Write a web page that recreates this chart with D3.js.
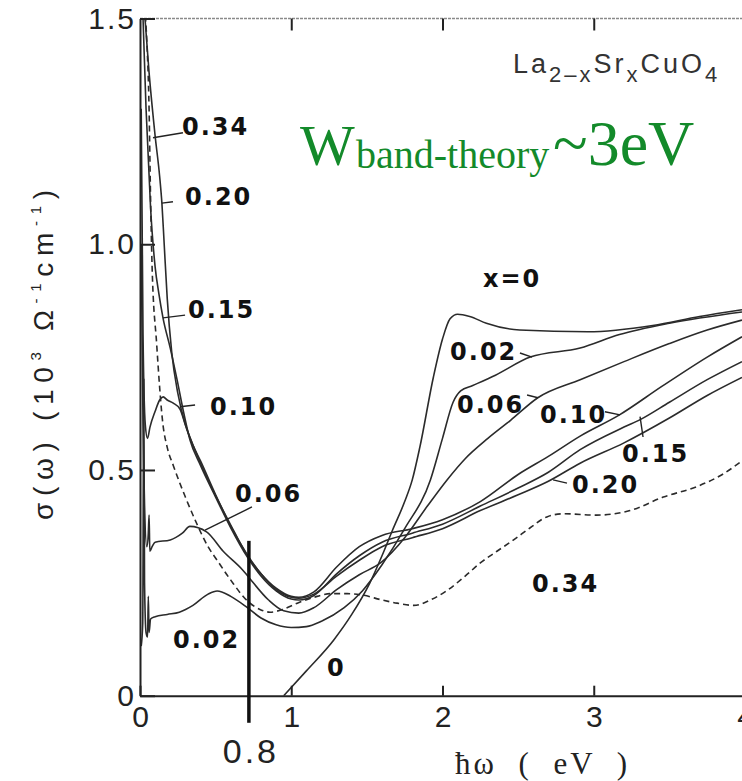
<!DOCTYPE html>
<html>
<head>
<meta charset="utf-8">
<script src="https://cdn.jsdelivr.net/npm/d3@7"></script>
<style>
  body { margin: 0; background: #fff; }
  svg { display: block; background: #fff; }
  .curve { fill: none; stroke: #2b2b2b; stroke-width: 1.6; }
  .tag { font-family: 'DejaVu Sans', sans-serif; font-weight: bold; font-size: 24px; letter-spacing: 2px; fill: #111; }
  .pointer { stroke: #222; stroke-width: 1.4; fill: none; }
  .axis path, .axis line { stroke: #222; stroke-width: 2; }
  .axis text { font-family: 'Liberation Sans', Arial, sans-serif; font-size: 30px; letter-spacing: 2px; fill: #222; }
</style>
</head>
<body>
<div id="app"></div>
<script>
const dopings = ['0', '0.02', '0.06', '0.10', '0.15', '0.20', '0.34']
const xTicks = [0, 1, 2, 3, 4]
const yTicks = [0, 0.5, 1.0, 1.5]

// sigma(omega), 10^3 ohm^-1 cm^-1, against photon energy in eV
const sigma000 = [[0.95, 0], [1.1, 0.055], [1.28, 0.123], [1.4, 0.18], [1.52, 0.25], [1.6, 0.31], [1.67, 0.367], [1.75, 0.43], [1.8, 0.478], [1.85, 0.55], [1.94, 0.706], [2.0, 0.79], [2.05, 0.835], [2.1, 0.845], [2.18, 0.84], [2.29, 0.825], [2.51, 0.81], [2.96, 0.806], [3.39, 0.82], [3.7, 0.84], [3.98, 0.855]]
const sigma002 = [[0.008, 0.11], [0.018, 0.16], [0.025, 0.7], [0.03, 0.25], [0.04, 0.14], [0.05, 0.13], [0.055, 0.22], [0.06, 0.14], [0.07, 0.17], [0.1, 0.175], [0.18, 0.18], [0.26, 0.185], [0.35, 0.2], [0.45, 0.225], [0.51, 0.232], [0.6, 0.22], [0.71, 0.195], [0.8, 0.172], [0.9, 0.157], [1.0, 0.151], [1.1, 0.153], [1.2, 0.165], [1.35, 0.195], [1.47, 0.232], [1.6, 0.29], [1.75, 0.37], [1.92, 0.478], [2.0, 0.57], [2.07, 0.65], [2.12, 0.675], [2.2, 0.687], [2.35, 0.71], [2.58, 0.75], [2.91, 0.77], [3.17, 0.8], [3.5, 0.825], [3.98, 0.85]]
const sigma006 = [[0.008, 1.0], [0.02, 0.6], [0.03, 0.42], [0.045, 0.33], [0.055, 0.36], [0.06, 0.4], [0.065, 0.32], [0.08, 0.33], [0.1, 0.34], [0.2, 0.345], [0.28, 0.36], [0.33, 0.375], [0.44, 0.363], [0.55, 0.32], [0.68, 0.278], [0.72, 0.262], [0.85, 0.212], [0.95, 0.188], [1.05, 0.183], [1.15, 0.195], [1.3, 0.235], [1.45, 0.268], [1.59, 0.294], [1.75, 0.35], [1.9, 0.42], [2.03, 0.478], [2.15, 0.525], [2.3, 0.57], [2.45, 0.61], [2.63, 0.66], [2.91, 0.7], [3.2, 0.74], [3.5, 0.78], [3.75, 0.81], [3.98, 0.832]]
const sigma010 = [[0.008, 1.3], [0.02, 0.8], [0.035, 0.6], [0.05, 0.57], [0.066, 0.595], [0.1, 0.63], [0.13, 0.655], [0.153, 0.662], [0.18, 0.655], [0.22, 0.648], [0.264, 0.635], [0.3, 0.6], [0.35, 0.555], [0.4, 0.515], [0.5, 0.443], [0.6, 0.378], [0.71, 0.31], [0.8, 0.27], [0.9, 0.238], [1.0, 0.22], [1.05, 0.218], [1.15, 0.23], [1.3, 0.285], [1.45, 0.33], [1.6, 0.355], [1.8, 0.37], [2.0, 0.39], [2.25, 0.43], [2.5, 0.49], [2.7, 0.53], [2.91, 0.575], [3.17, 0.622], [3.45, 0.685], [3.75, 0.75], [3.98, 0.795]]
const sigma015 = [[0.015, 1.55], [0.04, 1.3], [0.07, 1.08], [0.1, 0.95], [0.125, 0.89], [0.152, 0.837], [0.2, 0.77], [0.245, 0.7], [0.29, 0.625], [0.33, 0.567], [0.4, 0.51], [0.5, 0.44], [0.6, 0.372], [0.71, 0.307], [0.8, 0.265], [0.9, 0.232], [1.0, 0.214], [1.05, 0.212], [1.15, 0.222], [1.3, 0.27], [1.45, 0.31], [1.6, 0.34], [1.8, 0.36], [2.0, 0.38], [2.25, 0.42], [2.5, 0.46], [2.7, 0.495], [2.91, 0.545], [3.2, 0.595], [3.31, 0.612], [3.5, 0.65], [3.75, 0.7], [3.98, 0.74]]
const sigma020 = [[0.015, 1.58], [0.06, 1.38], [0.1, 1.24], [0.13, 1.15], [0.145, 1.09], [0.16, 1.0], [0.18, 0.88], [0.21, 0.76], [0.25, 0.67], [0.3, 0.6], [0.35, 0.555], [0.4, 0.52], [0.5, 0.445], [0.6, 0.375], [0.71, 0.312], [0.8, 0.27], [0.9, 0.235], [1.0, 0.218], [1.05, 0.216], [1.15, 0.225], [1.3, 0.265], [1.45, 0.3], [1.6, 0.33], [1.8, 0.35], [2.0, 0.37], [2.25, 0.41], [2.5, 0.445], [2.7, 0.475], [2.91, 0.515], [3.2, 0.56], [3.5, 0.615], [3.75, 0.665], [3.98, 0.705]]
const sigma034 = [[0.02, 1.55], [0.045, 1.45], [0.06, 1.3], [0.07, 1.1], [0.08, 0.95], [0.11, 0.78], [0.152, 0.6], [0.18, 0.55], [0.22, 0.51], [0.3, 0.44], [0.37, 0.385], [0.45, 0.33], [0.51, 0.3], [0.6, 0.256], [0.71, 0.21], [0.8, 0.19], [0.86, 0.185], [0.95, 0.192], [1.04, 0.205], [1.15, 0.218], [1.26, 0.226], [1.37, 0.226], [1.47, 0.223], [1.6, 0.212], [1.7, 0.205], [1.81, 0.2], [1.92, 0.212], [2.03, 0.233], [2.15, 0.265], [2.25, 0.294], [2.36, 0.32], [2.47, 0.345], [2.58, 0.372], [2.69, 0.396], [2.8, 0.403], [3.02, 0.4], [3.24, 0.41], [3.46, 0.44], [3.68, 0.463], [3.85, 0.49], [3.98, 0.52]]

// hand-drawn marker and its label
const markerEV = 0.72
const markerText = '0.8'

// curve tags (text and anchor point in eV / sigma units)
const tagText = ['0.34', '0.20', '0.15', '0.10', '0.06', '0.02', '0', 'x=0', '0.02', '0.06', '0.10', '0.15', '0.20', '0.34']
const tagAt = [[0.278, 1.242], [0.298, 1.088], [0.317, 0.837], [0.463, 0.622], [0.628, 0.429], [0.218, 0.106], [1.236, 0.044], [2.268, 0.906], [2.05, 0.744], [2.096, 0.626], [2.645, 0.604], [3.187, 0.518], [2.856, 0.449], [2.592, 0.23]]
const pointers = [
  [[0.086, 1.236], [0.284, 1.247]],
  [[0.145, 1.091], [0.218, 1.094]],
  [[0.152, 0.837], [0.298, 0.843]],
  [[0.264, 0.64], [0.364, 0.644]],
  [[0.43, 0.367], [0.74, 0.418]],
  [[2.512, 0.759], [2.592, 0.75]],
  [[2.559, 0.666], [2.631, 0.66]],
  [[3.074, 0.629], [3.174, 0.622]],
  [[3.306, 0.618], [3.326, 0.573]],
  [[2.731, 0.478], [2.823, 0.471]],
]

const W = 742
const H = 781
const margin = { top: 18.5, left: 140, bottom: 85.3 }
const plotRight = 745

const svg = d3
  .select('#app')
  .append('svg')
  .attr('width', W)
  .attr('height', H)

const x = d3.scaleLinear().domain([0, 4]).range([margin.left, plotRight])
const y = d3.scaleLinear().domain([0, 1.5]).range([H - margin.bottom, margin.top])

svg
  .append('clipPath')
  .attr('id', 'plot')
  .append('rect')
  .attr('x', margin.left)
  .attr('y', margin.top)
  .attr('width', plotRight - margin.left)
  .attr('height', y(0) - margin.top)

// Top frame line (faint, as in the scan)
svg
  .append('line')
  .attr('x1', margin.left)
  .attr('x2', plotRight)
  .attr('y1', margin.top)
  .attr('y2', margin.top)
  .attr('stroke', '#8a8a8a')
  .attr('stroke-width', 1.6)
  .attr('stroke-dasharray', '3,1')

svg
  .append('g')
  .attr('class', 'axis')
  .attr('transform', `translate(0,${margin.top})`)
  .call(d3.axisTop(x).tickValues([1, 2, 3]).tickSize(-12).tickSizeOuter(0).tickFormat(() => ''))
  .call(g => g.select('.domain').remove())
  .selectAll('line')
  .attr('stroke-width', 1.4)

// Curves
const line = d3
  .line()
  .x(d => x(d[0]))
  .y(d => y(d[1]))
  .curve(d3.curveMonotoneX)

const curves = [sigma000, sigma002, sigma006, sigma010, sigma015, sigma020, sigma034].map((pts, i) => ({
  doping: dopings[i],
  pts,
}))

svg
  .append('g')
  .attr('clip-path', 'url(#plot)')
  .selectAll('path')
  .data(curves)
  .join('path')
  .attr('class', 'curve')
  .attr('d', d => line(d.pts))
  .attr('stroke-dasharray', d => (d.doping === '0.34' ? '6,4' : null))

// Axes
svg
  .append('g')
  .attr('class', 'axis')
  .attr('transform', `translate(${margin.left},0)`)
  .call(
    d3
      .axisLeft(y)
      .tickValues(yTicks)
      .tickSize(-15)
      .tickSizeOuter(0)
      .tickPadding(4)
      .tickFormat(d => (d === 0 ? '0' : d3.format('.1f')(d)))
  )

svg
  .append('g')
  .attr('class', 'axis')
  .attr('transform', `translate(0,${y(0)})`)
  .call(d3.axisBottom(x).tickValues(xTicks).tickSize(-10).tickSizeOuter(0).tickPadding(10).tickFormat(d3.format('d')))
  .call(g => g.selectAll('.tick line').attr('stroke-width', 1.4))
  .call(g => g.selectAll('.tick text').attr('dx', 1))

// Marker at the band edge
svg
  .append('line')
  .attr('x1', x(markerEV))
  .attr('x2', x(markerEV))
  .attr('y1', y(0.343))
  .attr('y2', y(-0.06))
  .attr('stroke', '#111')
  .attr('stroke-width', 3.5)

svg
  .append('text')
  .attr('x', x(markerEV) + 2)
  .attr('y', 763)
  .attr('text-anchor', 'middle')
  .attr('font-family', "'Liberation Sans', Arial, sans-serif")
  .attr('font-size', 34)
  .attr('letter-spacing', 3)
  .attr('fill', '#222')
  .text(markerText)

// Curve tags
svg
  .selectAll('.pointer')
  .data(pointers)
  .join('path')
  .attr('class', 'pointer')
  .attr('d', d => d3.line()(d.map(p => [x(p[0]), y(p[1])])))

svg
  .selectAll('.tag')
  .data(tagText)
  .join('text')
  .attr('class', 'tag')
  .attr('x', (_, i) => x(tagAt[i][0]))
  .attr('y', (_, i) => y(tagAt[i][1]))
  .text(d => d)

// Axis titles
svg
  .append('text')
  .attr('transform', `translate(53,355) rotate(-90)`)
  .attr('text-anchor', 'middle')
  .attr('font-family', "'Liberation Sans', Arial, sans-serif")
  .attr('font-size', 28)
  .attr('fill', '#222')
  .attr('textLength', 330)
  .attr('lengthAdjust', 'spacing')
  .call(t => {
    t.append('tspan').text('σ(ω) (10')
    t.append('tspan').attr('font-size', 15).attr('dy', -12).text('3')
    t.append('tspan').attr('dy', 12).text(' Ω')
    t.append('tspan').attr('font-size', 15).attr('dy', -12).text('-1')
    t.append('tspan').attr('dy', 12).text('cm')
    t.append('tspan').attr('font-size', 15).attr('dy', -12).text('-1')
    t.append('tspan').attr('dy', 12).text(')')
  })

svg
  .append('text')
  .attr('x', 455)
  .attr('y', 774)
  .attr('font-family', "'Liberation Serif', 'Times New Roman', serif")
  .attr('font-size', 31)
  .attr('fill', '#222')
  .attr('textLength', 172)
  .attr('lengthAdjust', 'spacing')
  .style('white-space', 'pre')
  .text('ħω  (  eV  )')

// Compound name
svg
  .append('text')
  .attr('x', 513)
  .attr('y', 73)
  .attr('font-family', "'Liberation Sans', Arial, sans-serif")
  .attr('font-size', 27)
  .attr('letter-spacing', 3)
  .attr('fill', '#333')
  .call(t => {
    t.append('tspan').text('La')
    t.append('tspan').attr('dy', 9).attr('font-size', 22).text('2–x')
    t.append('tspan').attr('dy', -9).text('Sr')
    t.append('tspan').attr('dy', 9).attr('font-size', 22).text('x')
    t.append('tspan').attr('dy', -9).text('CuO')
    t.append('tspan').attr('dy', 9).attr('font-size', 22).text('4')
  })

// Band-width note
svg
  .append('text')
  .attr('y', 165)
  .attr('font-family', "'Liberation Serif', 'Times New Roman', serif")
  .attr('fill', '#138a2a')
  .call(t => {
    t.append('tspan').attr('x', 300).attr('font-size', 58).text('W')
    t.append('tspan').attr('x', 356).attr('dy', 3).attr('font-size', 40).text('band-theory')
    t.append('tspan').attr('x', 553).attr('dy', -3).attr('font-size', 64).text('~3eV')
  })
</script>
</body>
</html>
